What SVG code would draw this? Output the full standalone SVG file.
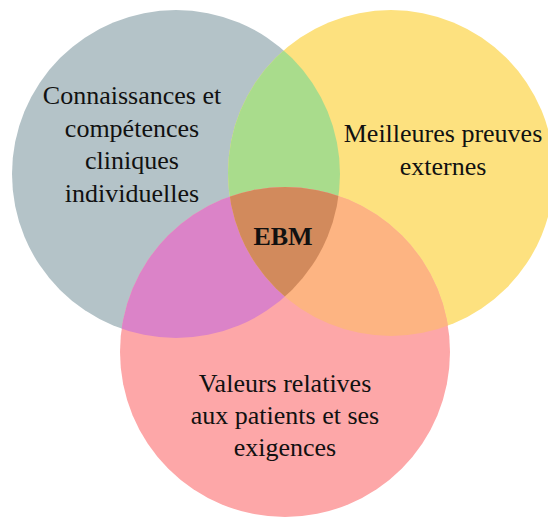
<svg xmlns="http://www.w3.org/2000/svg" width="548" height="517" viewBox="0 0 548 517">
  <defs>
    <clipPath id="clipA"><circle cx="176" cy="174" r="164"/></clipPath>
    <clipPath id="clipB"><circle cx="391" cy="173" r="163"/></clipPath>
    <clipPath id="clipC"><circle cx="285" cy="352" r="165"/></clipPath>
    <style>
      .lbl { font-family: "Liberation Serif", "Times New Roman", serif; font-size: 26px; fill: #111; text-anchor: middle; }
      .ebm { font-family: "Liberation Serif", "Times New Roman", serif; font-size: 26px; font-weight: bold; fill: #111; text-anchor: middle; }
    </style>
  </defs>
  <rect width="548" height="517" fill="#ffffff"/>
  <g id="node-clinical">
    <circle cx="176" cy="174" r="164" fill="#b4c3c8"/>
  </g>
  <g id="node-evidence">
    <circle cx="391" cy="173" r="163" fill="#fde17f"/>
  </g>
  <g id="node-patient">
    <circle cx="285" cy="352" r="165" fill="#fda7a8"/>
  </g>
  <g id="overlaps">
    <g clip-path="url(#clipA)"><circle cx="391" cy="173" r="163" fill="#a9dc8c"/></g>
    <g clip-path="url(#clipA)"><circle cx="285" cy="352" r="165" fill="#db83c8"/></g>
    <g clip-path="url(#clipB)"><circle cx="285" cy="352" r="165" fill="#fdb482"/></g>
    <g clip-path="url(#clipA)"><g clip-path="url(#clipB)"><circle cx="285" cy="352" r="165" fill="#d28a5c"/></g></g>
  </g>
  <g id="connectors"></g>
  <g id="labels">
    <text class="lbl" x="132" y="104">Connaissances et</text>
    <text class="lbl" x="132" y="137">compétences</text>
    <text class="lbl" x="132" y="169">cliniques</text>
    <text class="lbl" x="132" y="202">individuelles</text>
    <text class="lbl" x="443" y="142">Meilleures preuves</text>
    <text class="lbl" x="443" y="175">externes</text>
    <text class="lbl" x="285" y="392">Valeurs relatives</text>
    <text class="lbl" x="285" y="424">aux patients et ses</text>
    <text class="lbl" x="285" y="456">exigences</text>
    <text class="ebm" x="283" y="245">EBM</text>
  </g>
</svg>
